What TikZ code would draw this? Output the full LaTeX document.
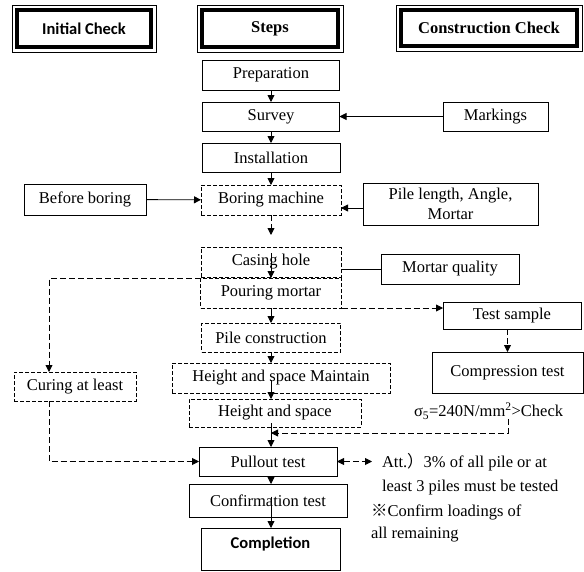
\documentclass[tikz,border=0pt]{standalone}
\usepackage{fontspec}
\setmainfont{Liberation Serif}
\newfontfamily\calibri{Carlito}
\newfontfamily\cjk{Noto Sans CJK JP}
\usetikzlibrary{arrows.meta}

\begin{document}
\begin{tikzpicture}[x=1pt, y=-1pt, >={Triangle[length=7pt,width=7pt]}, line width=0.9pt,
    every node/.style={font=\fontsize{16.5}{20}\selectfont, inner sep=0pt, outer sep=0pt},
    box/.style={draw, rectangle},
    dbox/.style={draw, rectangle, dash pattern=on 4pt off 2pt},
    head/.style={draw, rectangle, line width=3.5pt, font=\fontsize{16.5}{20}\selectfont\bfseries},
    dline/.style={dash pattern=on 6pt off 3pt}]
      \useasboundingbox (0,0) rectangle (584,571);
      \node (1) at (84,28.5) [head, minimum width=134pt, minimum height=37pt] {\calibri Initial Check};
      \node (2) at (270,28.5) [head, minimum width=136pt, minimum height=37pt] {Steps};
      \node (3) at (489,28) [head, minimum width=176pt, minimum height=36pt] {Construction Check};
      \node (4) at (271,75) [box, minimum width=137pt, minimum height=30pt] {Preparation};
      \node (5) at (271,116.5) [box, minimum width=137pt, minimum height=29pt] {Survey};
      \node (6) at (271,157.5) [box, minimum width=138pt, minimum height=29pt] {Installation};
      \node (7) at (271,200) [dbox, minimum width=140pt, minimum height=30pt] {Boring machine};
      \node (8) at (271,262) [dbox, minimum width=140pt, minimum height=30pt] {Casing hole};
      \node (9) at (271,293) [dbox, minimum width=141pt, minimum height=30pt] {Pouring mortar};
      \node (10) at (271,337.5) [dbox, minimum width=139pt, minimum height=29pt] {Pile construction};
      \node (11) at (281,378) [dbox, minimum width=218pt, minimum height=30pt] {Height and space Maintain};
      \node (12) at (275,413) [dbox, minimum width=172pt, minimum height=28pt] {Height and space};
      \node (13) at (268,461.5) [box, minimum width=138pt, minimum height=29pt] {Pullout test};
      \node (14) at (268,500.5) [box, minimum width=158pt, minimum height=33pt] {Confirmation test};
      \node (15) at (270.5,549) [box, minimum width=139pt, minimum height=42pt, text depth=12pt] {\calibri\bfseries Completion};
      \node (16) at (85,199.5) [box, minimum width=122pt, minimum height=31pt] {Before boring};
      \node (17) at (75,386.5) [dbox, minimum width=122pt, minimum height=29pt] {Curing at least};
      \node (18) at (495.5,116.5) [box, minimum width=105pt, minimum height=29pt] {Markings};
      \node (19) at (450.5,204) [box, minimum width=175pt, minimum height=42pt, align=center, font=\fontsize{16.5}{20}\selectfont] {Pile length, Angle,\\Mortar};
      \node (20) at (450,269) [box, minimum width=138pt, minimum height=30pt] {Mortar quality};
      \node (21) at (512,315.5) [box, minimum width=138pt, minimum height=27pt] {Test sample};
      \node (22) at (507.5,372.5) [box, minimum width=151pt, minimum height=41pt] {Compression test};
      \node (23) at (414,411) [anchor=west] {σ\textsubscript{5}=240N/mm\textsuperscript{2}>Check};
      \node (24) at (382,467) [anchor=base west] {Att.{\cjk ）}3\% of all pile or at};
      \node (25) at (382,491) [anchor=base west] {least 3 piles must be tested};
      \node (26) at (371,516) [anchor=base west] {{\cjk ※}Confirm loadings of};
      \node (27) at (371,538) [anchor=base west] {all remaining};
      \coordinate (lft) at (49,278);
      \coordinate (gap) at (271,235);
      \coordinate (chk) at (508,433);
      \coordinate (att) at (372,461.5);
      % thin outer frame of the headings
      \foreach \n in {1,2,3}
        \draw ([shift={(-5pt,5pt)}]\n.north west) rectangle ([shift={(5pt,-5pt)}]\n.south east);
      \foreach \source/\dest in {4/5, 5/6, 6/7, 9/10, 10/11, 13/14}
        \draw[->] (\source.south -| 4) -- (\dest.north -| 4);
      \foreach \source/\dest in {18/5, 16/7}
        \path[->] (\source) edge (\dest);
      \draw[->] ([yshift=-4pt]19.west) -- ([yshift=-4pt]19.west -| 7.east);
      \draw[->] ([yshift=9pt]8.center -| 4) -- (9.north -| 4);
      \draw[->] ([yshift=-2pt]11.center -| 4) -- (12.north -| 4);
      \draw[->] ([yshift=-10pt]12.center -| 4) -- (13.north -| 4);
      \draw[->] ([yshift=4pt]14.center -| 4) -- (15.north -| 4);
      \draw (20.west) -- (20.west -| 8.east);
      \draw[dline, ->] (7.south -| 4) -- (gap);
      \draw[dline, ->] (9.north west) -- (lft) -- (lft |- 17.north);
      \draw[dline, ->] (lft |- 17.south) -- (lft |- 13.west) -- (13.west);
      \draw[dline, ->] (9.south east) -- (9.south east -| 21.west);
      \draw[dline, ->] (21.south -| 22) -- (22.north);
      \draw[dline, ->] (chk |- 23.south) -- (chk) -- (chk -| 4);
      \draw[dline, <->] (13.east) -- (att);
\end{tikzpicture}
\end{document}
